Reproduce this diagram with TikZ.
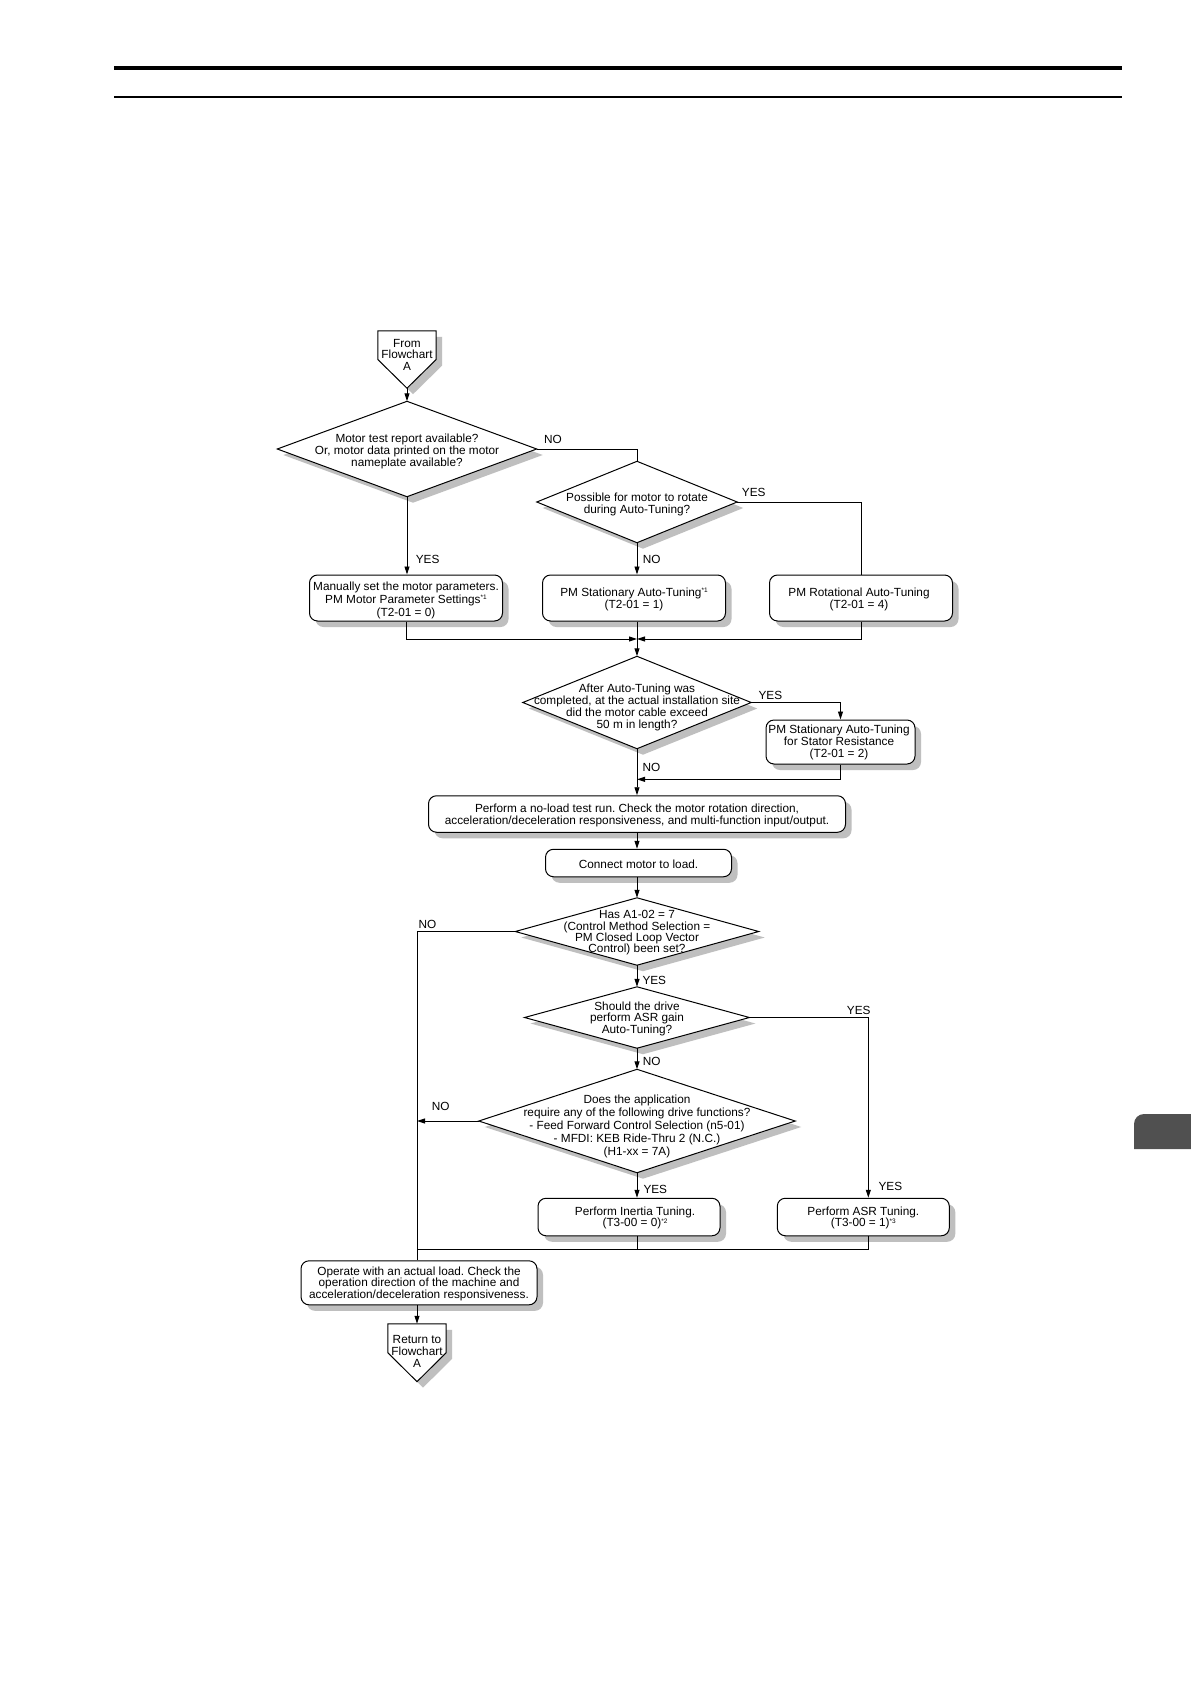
\documentclass[tikz,border=0pt]{standalone}
\usepackage{fontspec}
\setmainfont{Liberation Sans}
\usetikzlibrary{arrows.meta,shadows,calc}
\pgfdeclarelayer{bg}
\pgfsetlayers{bg,main}
\definecolor{shad}{gray}{0.75}
\definecolor{tabgray}{HTML}{505050}
\newcommand\supr[1]{\raisebox{3.8pt}{\fontsize{6.5}{6.5}\selectfont #1}}
\newcommand\fs[1]{\fontsize{11.8}{#1}\selectfont\frenchspacing}
\tikzset{
  base/.style={font=\fs{11.8}, align=center, inner sep=0pt},
  shd/.style={drop shadow={shadow xshift=6pt,shadow yshift=-6pt,fill=shad,opacity=1}},
  frm/.style={inner sep=0pt},
  box/.style={frm, draw, line width=1.0pt, rounded corners=8pt, fill=white, shd},
  dshape/.style={draw, line width=1.0pt, fill=white, shd, line join=miter},
  ln/.style={line width=0.95pt},
  arr/.style={line width=0.95pt, -{Triangle[length=8pt,width=5pt]}},
  lbl/.style={font=\fs{11.8}, inner sep=0pt, anchor=west},
}
\newcommand\dframe[1]{\begin{pgfonlayer}{bg}\draw[dshape] (#1.north) -- (#1.east) -- (#1.south) -- (#1.west) -- cycle;\end{pgfonlayer}}
\newcommand\pframe[1]{\begin{pgfonlayer}{bg}\draw[dshape] (#1.north west) -- (#1.north east) -- (#1.east) -- (#1.south) -- (#1.west) -- cycle;\end{pgfonlayer}}
\begin{document}
\begin{tikzpicture}[x=1pt,y=-1pt]
\begin{pgfonlayer}{bg}
\fill[white] (0,0) rectangle (1191,1684);
\end{pgfonlayer}
\useasboundingbox (0,0) rectangle (1191,1684);
% header rules
\draw[line width=4pt] (114,67.7) -- (1122,67.7);
\draw[line width=1.7pt] (114,96.7) -- (1122,96.7);
% side tab
\fill[tabgray] (1191,1149) -- (1134,1149) -- (1134,1124) arc[start angle=180,end angle=90,radius=10pt] -- (1191,1114) -- cycle;

% From flowchart A
\node[frm, minimum width=58pt, minimum height=57pt] (fA) at (407,359.5) {};
\pframe{fA}
\node[base] (fAt) at (407,354.9) {From\\Flowchart\\A};

% decision 1
\node[frm, minimum width=259pt, minimum height=95pt] (d1) at (407,449) {};
\dframe{d1}
\node[base] (d1t) at (407,451.5) {Motor test report available?\\Or, motor data printed on the motor\\nameplate available?};
% decision 2
\node[frm, minimum width=200pt, minimum height=81pt] (d2) at (637,502) {};
\dframe{d2}
\node[base] (d2t) at (637,504.8) {Possible for motor to rotate\\during Auto-Tuning?};

% boxes row 1
\node[box, minimum width=193pt, minimum height=46pt] (bMan) at (406,598) {};
\node[base, font=\fs{12.8}] (bMant) at (406,600.4) {Manually set the motor parameters.\\PM Motor Parameter Settings\supr{*1}\\(T2-01 = 0)};
\node[box, minimum width=183pt, minimum height=46pt] (bSta) at (634,598) {};
\node[base, font=\fs{12}] (bStat) at (634,599.3) {PM Stationary Auto-Tuning\supr{*1}\\(T2-01 = 1)};
\node[box, minimum width=183pt, minimum height=46pt] (bRot) at (861,598) {};
\node[base, font=\fs{12}] (bRott) at (859,599.3) {PM Rotational Auto-Tuning\\(T2-01 = 4)};

\coordinate (m1) at (637,639);

% decision 3
\node[frm, minimum width=228pt, minimum height=92pt] (d3) at (637,702.5) {};
\dframe{d3}
\node[base] (d3t) at (637,707.6) {After Auto-Tuning was\\completed, at the actual installation site\\did the motor cable exceed\\50 m in length?};
\node[box, minimum width=149pt, minimum height=44pt] (bStator) at (840.5,742) {};
\node[base, font=\fs{12}] (bStatort) at (839,742.8) {PM Stationary Auto-Tuning\\for Stator Resistance\\(T2-01 = 2)};
\coordinate (m2) at (637,779.3);

\node[box, minimum width=417pt, minimum height=36.5pt] (bNoLoad) at (637,814) {};
\node[base, font=\fs{12.7}] (bNoLoadt) at (637,815.3) {Perform a no-load test run. Check the motor rotation direction,\\acceleration/deceleration responsiveness, and multi-function input/output.};
\node[box, minimum width=186pt, minimum height=27.5pt] (bConnect) at (638.5,863) {};
\node[base] (bConnectt) at (638.5,863.9) {Connect motor to load.};

% decision 4
\node[frm, minimum width=243pt, minimum height=67pt] (d4) at (637,931.5) {};
\dframe{d4}
\node[base, font=\fs{11.4}] (d4t) at (637,932.8) {Has A1-02 = 7\\(Control Method Selection =\\PM Closed Loop Vector\\Control) been set?};
% decision 5
\node[frm, minimum width=224.5pt, minimum height=61pt] (d5) at (637,1017.5) {};
\dframe{d5}
\node[base] (d5t) at (637,1018.9) {Should the drive\\perform ASR gain\\Auto-Tuning?};
% decision 6
\node[frm, minimum width=316pt, minimum height=103pt] (d6) at (637,1121) {};
\dframe{d6}
\node[base, font=\fs{12.9}] (d6t) at (637,1126.5) {Does the application\\require any of the following drive functions?\\- Feed Forward Control Selection (n5-01)\\- MFDI: KEB Ride-Thru 2 (N.C.)\\(H1-xx = 7A)};

\node[box, minimum width=182pt, minimum height=37.5pt] (bInertia) at (629,1217) {};
\node[base, font=\fs{11.5}] (bInertiat) at (635,1218) {Perform Inertia Tuning.\\(T3-00 = 0)\supr{*2}};
\node[box, minimum width=172pt, minimum height=37.5pt] (bASR) at (863.3,1217) {};
\node[base, font=\fs{11.5}] (bASRt) at (863.3,1218) {Perform ASR Tuning.\\(T3-00 = 1)\supr{*3}};
\coordinate (m3) at (637,1249.3);

\node[box, minimum width=236pt, minimum height=44pt] (bOperate) at (419,1282.8) {};
\node[base] (bOperatet) at (419,1283.8) {Operate with an actual load. Check the\\operation direction of the machine and\\acceleration/deceleration responsiveness.};
\coordinate (lx) at (417,1249.3);

% Return to flowchart A
\node[frm, minimum width=58pt, minimum height=57.5pt] (rA) at (417,1352.7) {};
\pframe{rA}
\node[base] (rAt) at (417,1351.6) {Return to\\Flowchart\\A};

% connectors
\draw[arr] (fA.south) -- (d1.north);
\draw[ln] (d1.east) -| (d2.north);
\draw[arr] (d1.south) -- (d1.south |- bMan.north);
\draw[ln] (d2.east) -| (bRot.north);
\draw[arr] (d2.south) -- (d2.south |- bSta.north);
\draw[arr] (bMan.south) |- (m1);
\draw[arr] (bRot.south) |- (m1);
\draw[arr] (m1 |- bSta.south) -- (d3.north);
\draw[arr] (d3.east) -| (bStator.north);
\draw[arr] (bStator.south) |- (m2);
\draw[arr] (d3.south) -- (bNoLoad.north);
\draw[arr] (bNoLoad.south -| d3.south) -- (d3.south |- bConnect.north);
\draw[arr] (d3.south |- bConnect.south) -- (d4.north);
\draw[arr] (d4.south) -- (d5.north);
\draw[arr] (d5.south) -- (d6.north);
\draw[arr] (d6.south) -- (d6.south |- bInertia.north);
\draw[arr] (d5.east) -| ($(bASR.north)+(5,0)$);
\draw[ln] (m3 |- bInertia.south) -- (m3);
\draw[ln] ($(bASR.south)+(5,0)$) |- (lx);
\draw[ln] (d4.west) -| (lx |- bOperate.north);
\draw[arr] (d6.west) -- (d6.west -| lx);
\draw[arr] (lx |- bOperate.south) -- (rA.north);

% labels
\node[lbl] (l1) at (544,439.5) {NO};
\node[lbl] (l2) at (415.6,559.5) {YES};
\node[lbl] (l3) at (741.7,492.3) {YES};
\node[lbl] (l4) at (642.7,559.3) {NO};
\node[lbl] (l5) at (758.3,695) {YES};
\node[lbl] (l6) at (642.3,767.3) {NO};
\node[lbl] (l7) at (418.3,924.3) {NO};
\node[lbl] (l8) at (642.3,980) {YES};
\node[lbl] (l9) at (846.7,1010) {YES};
\node[lbl] (l10) at (642.7,1061.7) {NO};
\node[lbl] (l11) at (431.7,1106) {NO};
\node[lbl] (l12) at (643.3,1189.3) {YES};
\node[lbl] (l13) at (878.3,1186) {YES};
\end{tikzpicture}
\end{document}
